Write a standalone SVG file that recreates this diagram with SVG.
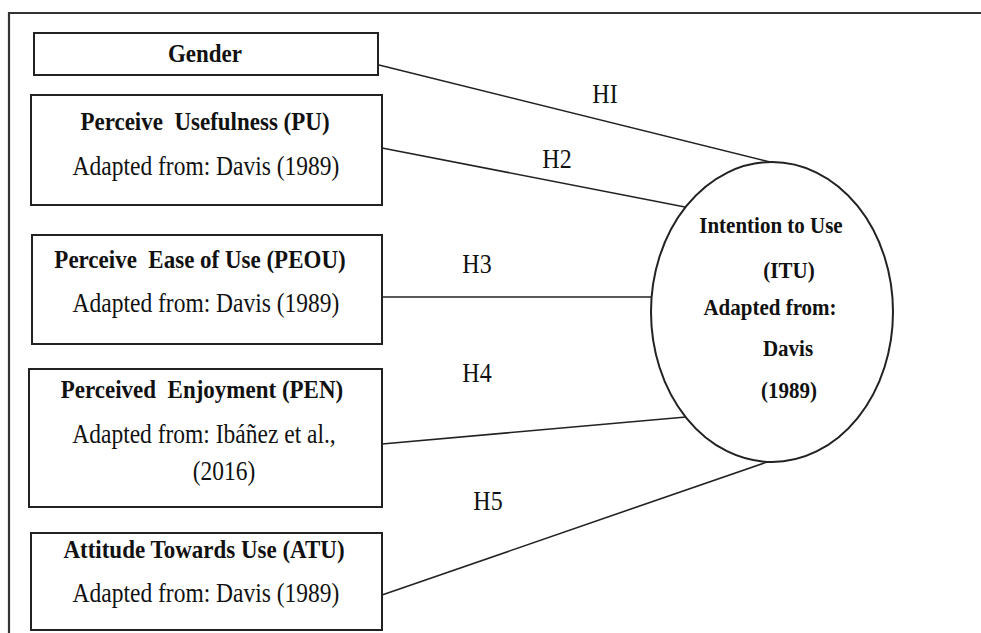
<svg xmlns="http://www.w3.org/2000/svg" width="981" height="633" viewBox="0 0 981 633">
<style>
.box{fill:#fff;stroke:#222;stroke-width:2}
.frame{fill:none;stroke:#333;stroke-width:2.2}
.con{stroke:#222;stroke-width:1.6;fill:none}
text{font-family:'Liberation Serif',serif;fill:#111;text-anchor:middle;white-space:pre}
.b{font-weight:bold;font-size:23px}
.r{font-size:23.5px}
.c{font-weight:bold;font-size:21px}
.h{font-size:24px}
</style>
<rect width="981" height="633" fill="#fff"/>
<path class="frame" d="M9,633 V13 H981"/>
<g id="connectors">
<line class="con" x1="379" y1="65" x2="770" y2="162"/>
<line class="con" x1="382" y1="148" x2="685" y2="207"/>
<line class="con" x1="382" y1="297" x2="651" y2="297"/>
<line class="con" x1="382" y1="444" x2="686" y2="417"/>
<line class="con" x1="382" y1="595" x2="767" y2="462"/>
<text class="h" x="605" y="103" transform="matrix(1,0,0,1.12,0,-12.36)">HI</text>
<text class="h" x="557" y="168" transform="matrix(1,0,0,1.12,0,-20.16)">H2</text>
<text class="h" x="477" y="273" transform="matrix(1,0,0,1.12,0,-32.76)">H3</text>
<text class="h" x="477" y="382" transform="matrix(1,0,0,1.12,0,-45.84)">H4</text>
<text class="h" x="488" y="510" transform="matrix(1,0,0,1.12,0,-61.2)">H5</text>
</g>
<g id="gender">
<rect class="box" x="34" y="33" width="344" height="42"/>
<text class="b" x="205" y="62" transform="matrix(1,0,0,1.12,0,-7.44)">Gender</text>
</g>
<g id="pu">
<rect class="box" x="31" y="95" width="351" height="110"/>
<text class="b" x="205" y="130" transform="matrix(1,0,0,1.12,0,-15.6)">Perceive  Usefulness (PU)</text>
<text class="r" x="206" y="175" transform="matrix(1,0,0,1.12,0,-21)">Adapted from: Davis (1989)</text>
</g>
<g id="peou">
<rect class="box" x="32" y="235" width="350" height="109"/>
<text class="b" x="200" y="268" transform="matrix(1,0,0,1.12,0,-32.16)">Perceive  Ease of Use (PEOU)</text>
<text class="r" x="206" y="312" transform="matrix(1,0,0,1.12,0,-37.44)">Adapted from: Davis (1989)</text>
</g>
<g id="pen">
<rect class="box" x="29" y="369" width="353" height="138"/>
<text class="b" x="202" y="398" transform="matrix(1,0,0,1.12,0,-47.76)">Perceived  Enjoyment (PEN)</text>
<text class="r" x="204" y="443" transform="matrix(1,0,0,1.12,0,-53.16)">Adapted from: Ibáñez et al.,</text>
<text class="r" x="224" y="480" transform="matrix(1,0,0,1.12,0,-57.6)">(2016)</text>
</g>
<g id="atu">
<rect class="box" x="31" y="533" width="351" height="97"/>
<text class="b" x="204" y="558" transform="matrix(1,0,0,1.12,0,-66.96)">Attitude Towards Use (ATU)</text>
<text class="r" x="206" y="602" transform="matrix(1,0,0,1.12,0,-72.24)">Adapted from: Davis (1989)</text>
</g>
<g id="itu">
<ellipse class="box" cx="772" cy="312" rx="121" ry="150" stroke-width="1.8"/>
<text class="c" x="771" y="233" transform="matrix(1,0,0,1.12,0,-27.96)">Intention to Use</text>
<text class="c" x="789" y="278" transform="matrix(1,0,0,1.12,0,-33.36)">(ITU)</text>
<text class="c" x="770" y="315" transform="matrix(1,0,0,1.12,0,-37.8)">Adapted from:</text>
<text class="c" x="788" y="356" transform="matrix(1,0,0,1.12,0,-42.72)">Davis</text>
<text class="c" x="789" y="398" transform="matrix(1,0,0,1.12,0,-47.76)">(1989)</text>
</g>
</svg>
